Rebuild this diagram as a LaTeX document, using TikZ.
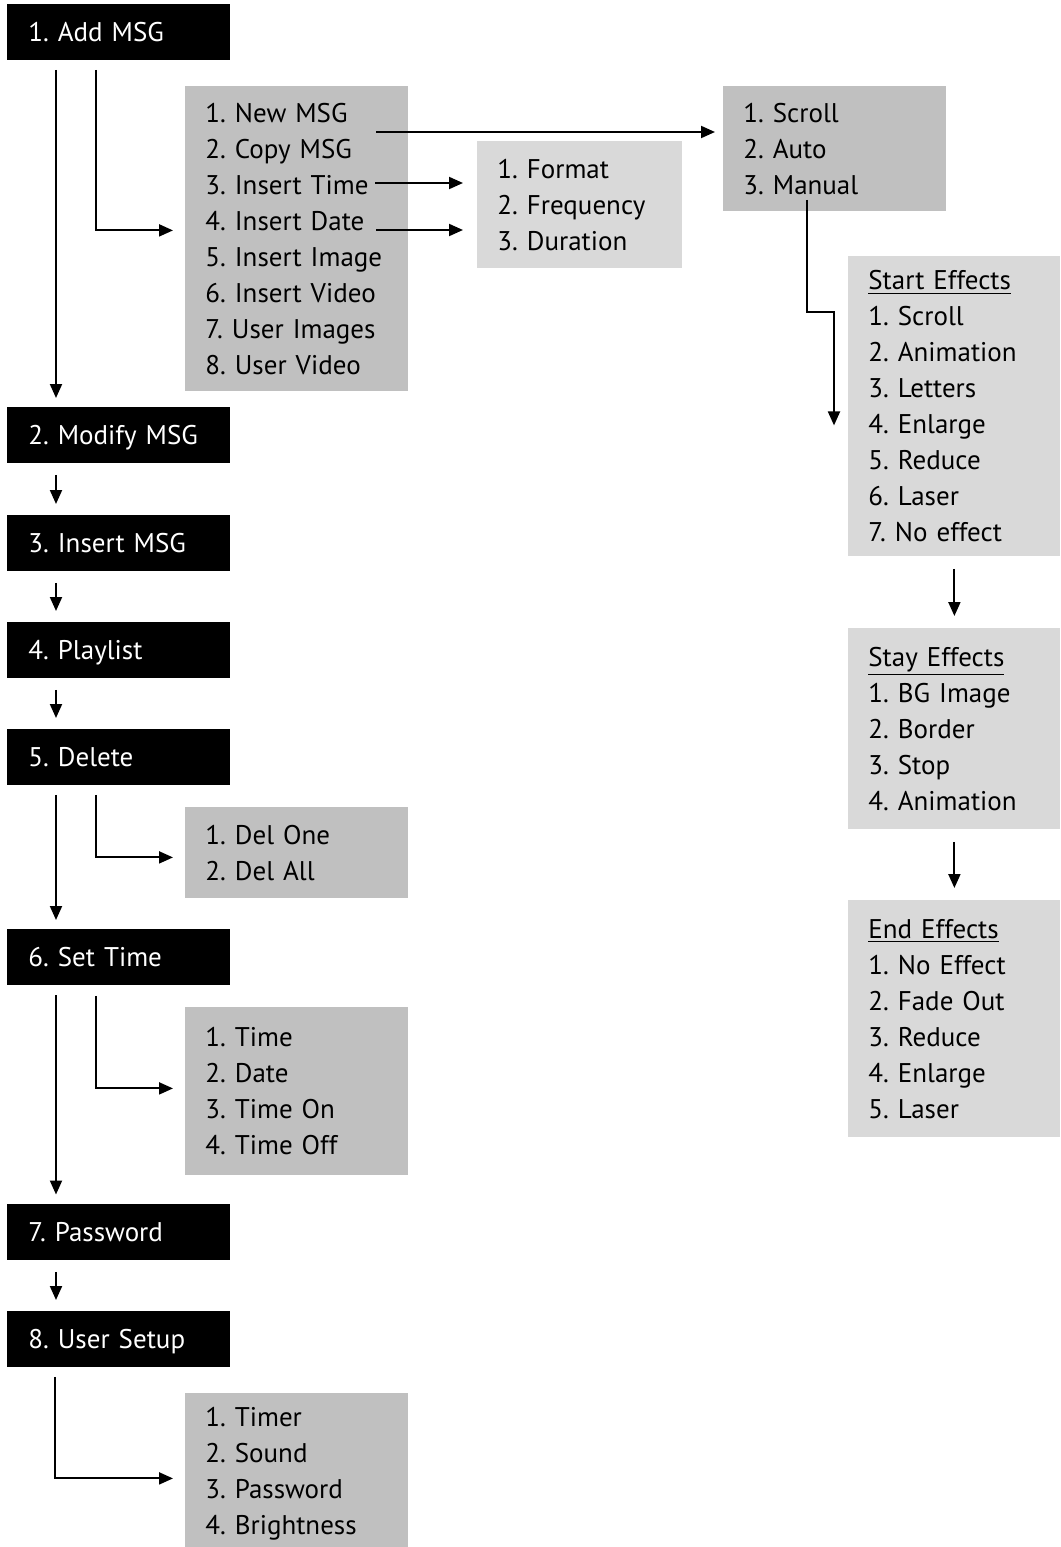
\documentclass[tikz,border=0pt]{standalone}
\usepackage{fontspec}
\setmainfont{PT Sans}
\frenchspacing
\usepackage{tikz}
\usetikzlibrary{arrows.meta, calc}
\definecolor{MenuGray}{HTML}{C0C0C0}
\definecolor{PaleGray}{HTML}{D9D9D9}

\begin{document}
\begin{tikzpicture}[x=0.5pt, y=-0.5pt,
		every node/.style={font=\fontsize{13.5}{18}\selectfont},
		menu/.style={fill=black, text=white, anchor=north west, text width=90.5pt, inner xsep=10.5pt, inner ysep=0pt, minimum height=28pt, text height=9.5pt, text depth=0pt, align=left},
		sub/.style={fill=MenuGray, anchor=north west, text width=#1, inner xsep=10pt, inner ysep=0pt, align=left},
		arr/.style={-{Triangle[length=7pt, width=6pt]}, line width=1pt},
		spaced/.style={shorten <=#1, shorten >=#1}]
		\useasboundingbox (0, 0) rectangle (1060, 1547);
		
		\node[menu] (add) at (7, 4) {1. Add MSG};
		\node[menu] (modify) at (7, 407) {2. Modify MSG};
		\node[menu] (insert) at (7, 515) {3. Insert MSG};
		\node[menu] (playlist) at (7, 622) {4. Playlist};
		\node[menu] (delete) at (7, 729) {5. Delete};
		\node[menu] (settime) at (7, 929) {6. Set Time};
		\node[menu] (password) at (7, 1204) {7. Password};
		\node[menu] (usersetup) at (7, 1311) {8. User Setup};
		
		\node[sub=91.5pt, minimum height=152.5pt] (addsub) at (185, 86) {1. New MSG\\2. Copy MSG\\3. Insert Time\\4. Insert Date\\5. Insert Image\\6. Insert Video\\7. User Images\\8. User Video};
		\node[sub=82.5pt, fill=PaleGray, minimum height=63.5pt] (fmt) at (477, 141) {1. Format\\2. Frequency\\3. Duration};
		\node[sub=91.5pt, minimum height=62.5pt] (scroll) at (723, 86) {1. Scroll\\2. Auto\\3. Manual};
		\node[sub=86pt, fill=PaleGray, minimum height=150pt] (startfx) at (848, 256) {\underline{Start Effects}\\1. Scroll\\2. Animation\\3. Letters\\4. Enlarge\\5. Reduce\\6. Laser\\7. No effect};
		\node[sub=86pt, fill=PaleGray, minimum height=100.5pt] (stayfx) at (848, 628) {\underline{Stay Effects}\\1. BG Image\\2. Border\\3. Stop\\4. Animation};
		\node[sub=86pt, fill=PaleGray, minimum height=118.5pt] (endfx) at (848, 900) {\underline{End Effects}\\1. No Effect\\2. Fade Out\\3. Reduce\\4. Enlarge\\5. Laser};
		\node[sub=91.5pt, minimum height=45.5pt] (del) at (185, 807) {1. Del One\\2. Del All};
		\node[sub=91.5pt, minimum height=84pt] (time) at (185, 1007) {1. Time\\2. Date\\3. Time On\\4. Time Off};
		\node[sub=91.5pt, minimum height=80pt] (user) at (185, 1393) {1. Timer\\2. Sound\\3. Password\\4. Brightness};
		
		% main column
		\draw[arr, spaced=4.5pt] ($(add.south west)+(49, 0)$) -- ($(modify.north west)+(49, 0)$);
		\draw[arr, spaced=5.5pt] ($(modify.south west)+(49, 0)$) -- ($(insert.north west)+(49, 0)$);
		\draw[arr, spaced=5.5pt] ($(insert.south west)+(49, 0)$) -- ($(playlist.north west)+(49, 0)$);
		\draw[arr, spaced=5.5pt] ($(playlist.south west)+(49, 0)$) -- ($(delete.north west)+(49, 0)$);
		\draw[arr, spaced=4.5pt] ($(delete.south west)+(49, 0)$) -- ($(settime.north west)+(49, 0)$);
		\draw[arr, spaced=4.75pt] ($(settime.south west)+(49, 0)$) -- ($(password.north west)+(49, 0)$);
		\draw[arr, spaced=5.5pt] ($(password.south west)+(49, 0)$) -- ($(usersetup.north west)+(49, 0)$);
		
		% sub menus
		\draw[arr, shorten <=4.5pt, shorten >=6pt] ($(add.south west)+(89, 0)$) |- ($(addsub.west)+(0, -8.5)$);
		\draw[arr, shorten <=4.5pt, shorten >=6pt] ($(delete.south west)+(89, 0)$) |- ($(del.west)+(0, 4.5)$);
		\draw[arr, shorten <=5pt, shorten >=6pt] ($(settime.south west)+(89, 0)$) |- ($(time.west)+(0, -3)$);
		\draw[arr, shorten <=4.5pt, shorten >=6pt] ($(usersetup.south west)+(48, 0)$) |- ($(user.west)+(0, 5)$);
		
		\coordinate (newmsg) at ($(addsub.north west)+(191, 46)$);
		\coordinate (instime) at ($(addsub.north west)+(190, 97)$);
		\coordinate (insdate) at ($(addsub.north west)+(191, 144)$);
		\coordinate (manual) at ($(scroll.south west)+(84, -12)$);
		\draw[arr, shorten >=4pt] (newmsg) -- (newmsg -| scroll.west);
		\draw[arr, shorten >=7pt] (instime) -- (instime -| fmt.west);
		\draw[arr, shorten >=7pt] (insdate) -- (insdate -| fmt.west);
		\draw[arr] (manual) -- ++(0, 112) -| ($(startfx.west)+(-14, 19)$);
		
		% effects
		\draw[arr, spaced=6pt] (startfx.south) -- (stayfx.north);
		\draw[arr, spaced=6pt] (stayfx.south) -- (endfx.north);
	\end{tikzpicture}
\end{document}
